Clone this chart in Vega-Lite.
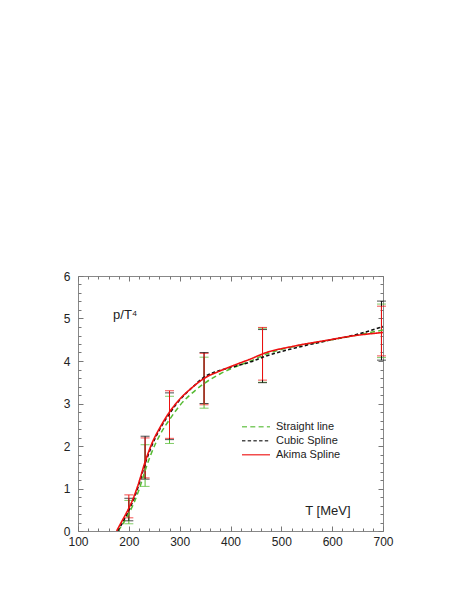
{
  "$schema": "https://vega.github.io/schema/vega-lite/v6.json",
  "width": 305,
  "height": 255,
  "autosize": {"type": "none"},
  "padding": {"left": 78, "top": 276, "right": 80, "bottom": 68},
  "background": "white",
  "config": {
    "view": {"stroke": "#888", "strokeWidth": 1},
    "font": "Liberation Sans",
    "axis": {"grid": false, "domain": false, "tickColor": "#777", "labelColor": "#222", "labelFont": "Liberation Sans", "labelFontSize": 12, "title": null},
    "legend": {"orient": "none", "legendX": 163, "legendY": 145, "symbolType": "stroke", "symbolSize": 784, "symbolStrokeWidth": 1.8,
      "clipHeight": 11.5, "rowPadding": 1, "labelOffset": 5, "labelFontSize": 11, "labelFont": "Liberation Sans", "labelColor": "#222", "title": null}
  },
  "datasets": {
    "bars": [
      {"series": "Straight line", "T": 200, "lo": 0.17, "hi": 0.72},
      {"series": "Straight line", "T": 232, "lo": 1.05, "hi": 2.03},
      {"series": "Straight line", "T": 280, "lo": 2.06, "hi": 3.17},
      {"series": "Straight line", "T": 348, "lo": 2.89, "hi": 4.09},
      {"series": "Straight line", "T": 463, "lo": 3.5, "hi": 4.77},
      {"series": "Straight line", "T": 697, "lo": 4.08, "hi": 5.34},
      {"series": "Cubic Spline", "T": 200, "lo": 0.24, "hi": 0.77},
      {"series": "Cubic Spline", "T": 232, "lo": 1.22, "hi": 2.23},
      {"series": "Cubic Spline", "T": 280, "lo": 2.15, "hi": 3.25},
      {"series": "Cubic Spline", "T": 348, "lo": 3.0, "hi": 4.2},
      {"series": "Cubic Spline", "T": 463, "lo": 3.49, "hi": 4.74},
      {"series": "Cubic Spline", "T": 697, "lo": 4.02, "hi": 5.41},
      {"series": "Akima Spline", "T": 200, "lo": 0.31, "hi": 0.85},
      {"series": "Akima Spline", "T": 232, "lo": 1.25, "hi": 2.19},
      {"series": "Akima Spline", "T": 280, "lo": 2.18, "hi": 3.3},
      {"series": "Akima Spline", "T": 348, "lo": 2.97, "hi": 4.18},
      {"series": "Akima Spline", "T": 463, "lo": 3.55, "hi": 4.79},
      {"series": "Akima Spline", "T": 697, "lo": 4.12, "hi": 5.29}
    ],
    "curves": [
      {"series": "Straight line", "T": 179, "y": 0},
      {"series": "Straight line", "T": 190, "y": 0.2},
      {"series": "Straight line", "T": 200, "y": 0.41},
      {"series": "Straight line", "T": 210, "y": 0.66},
      {"series": "Straight line", "T": 220, "y": 0.97},
      {"series": "Straight line", "T": 232, "y": 1.42},
      {"series": "Straight line", "T": 245, "y": 1.85},
      {"series": "Straight line", "T": 262, "y": 2.28},
      {"series": "Straight line", "T": 280, "y": 2.62},
      {"series": "Straight line", "T": 300, "y": 2.95},
      {"series": "Straight line", "T": 325, "y": 3.25},
      {"series": "Straight line", "T": 348, "y": 3.47},
      {"series": "Straight line", "T": 380, "y": 3.7},
      {"series": "Straight line", "T": 407, "y": 3.85},
      {"series": "Straight line", "T": 440, "y": 4.0},
      {"series": "Straight line", "T": 466, "y": 4.14},
      {"series": "Straight line", "T": 525, "y": 4.34},
      {"series": "Straight line", "T": 591, "y": 4.48},
      {"series": "Straight line", "T": 640, "y": 4.59},
      {"series": "Straight line", "T": 700, "y": 4.73},
      {"series": "Cubic Spline", "T": 178, "y": 0},
      {"series": "Cubic Spline", "T": 190, "y": 0.25},
      {"series": "Cubic Spline", "T": 200, "y": 0.49},
      {"series": "Cubic Spline", "T": 210, "y": 0.76},
      {"series": "Cubic Spline", "T": 220, "y": 1.1},
      {"series": "Cubic Spline", "T": 232, "y": 1.58},
      {"series": "Cubic Spline", "T": 245, "y": 2.0},
      {"series": "Cubic Spline", "T": 262, "y": 2.42},
      {"series": "Cubic Spline", "T": 280, "y": 2.76},
      {"series": "Cubic Spline", "T": 300, "y": 3.08},
      {"series": "Cubic Spline", "T": 325, "y": 3.38},
      {"series": "Cubic Spline", "T": 348, "y": 3.62},
      {"series": "Cubic Spline", "T": 380, "y": 3.78},
      {"series": "Cubic Spline", "T": 407, "y": 3.87},
      {"series": "Cubic Spline", "T": 440, "y": 3.98},
      {"series": "Cubic Spline", "T": 466, "y": 4.1},
      {"series": "Cubic Spline", "T": 525, "y": 4.3},
      {"series": "Cubic Spline", "T": 591, "y": 4.48},
      {"series": "Cubic Spline", "T": 640, "y": 4.6},
      {"series": "Cubic Spline", "T": 700, "y": 4.81},
      {"series": "Akima Spline", "T": 176, "y": 0},
      {"series": "Akima Spline", "T": 185, "y": 0.2},
      {"series": "Akima Spline", "T": 195, "y": 0.42},
      {"series": "Akima Spline", "T": 207, "y": 0.72},
      {"series": "Akima Spline", "T": 220, "y": 1.15},
      {"series": "Akima Spline", "T": 231, "y": 1.59},
      {"series": "Akima Spline", "T": 245, "y": 2.05},
      {"series": "Akima Spline", "T": 262, "y": 2.45},
      {"series": "Akima Spline", "T": 280, "y": 2.8},
      {"series": "Akima Spline", "T": 300, "y": 3.1},
      {"series": "Akima Spline", "T": 325, "y": 3.38},
      {"series": "Akima Spline", "T": 348, "y": 3.59},
      {"series": "Akima Spline", "T": 380, "y": 3.77},
      {"series": "Akima Spline", "T": 407, "y": 3.9},
      {"series": "Akima Spline", "T": 440, "y": 4.05},
      {"series": "Akima Spline", "T": 466, "y": 4.18},
      {"series": "Akima Spline", "T": 525, "y": 4.35},
      {"series": "Akima Spline", "T": 591, "y": 4.49},
      {"series": "Akima Spline", "T": 640, "y": 4.59},
      {"series": "Akima Spline", "T": 700, "y": 4.67}
    ],
    "notes": [
      {"label": "p/T⁴", "T": 169, "y": 5.0},
      {"label": "T [MeV]", "T": 547, "y": 0.37}
    ]
  },
  "layer": [
    {
      "data": {"name": "bars"},
      "transform": [{"fold": ["lo", "hi"], "as": ["end", "val"]}],
      "mark": {"type": "tick", "orient": "horizontal", "size": 9, "thickness": 1, "opacity": 0.75},
      "encoding": {
        "x": {"field": "T", "type": "quantitative", "scale": {"domain": [100, 700], "nice": false, "zero": false},
          "axis": {"orient": "bottom", "values": [100,120,140,160,180,200,220,240,260,280,300,320,340,360,380,400,420,440,460,480,500,520,540,560,580,600,620,640,660,680,700],
            "labelExpr": "datum.value % 100 === 0 ? format(datum.value, 'd') : ''",
            "tickSize": {"condition": {"test": "datum.value % 100 === 0", "value": -5}, "value": -3},
            "labelPadding": 10, "labelFlush": false, "labelOverlap": false}},
        "y": {"field": "val", "type": "quantitative", "scale": {"domain": [0, 6], "nice": false, "zero": false},
          "axis": {"orient": "left", "values": [0,0.2,0.4,0.6,0.8,1,1.2,1.4,1.6,1.8,2,2.2,2.4,2.6,2.8,3,3.2,3.4,3.6,3.8,4,4.2,4.4,4.6,4.8,5,5.2,5.4,5.6,5.8,6],
            "labelExpr": "abs(datum.value - round(datum.value)) < 0.001 ? format(datum.value, 'd') : ''",
            "tickSize": {"condition": {"test": "abs(datum.value - round(datum.value)) < 0.001", "value": -5}, "value": -3},
            "labelPadding": 13, "labelFlush": false, "labelOverlap": false}},
        "color": {"field": "series", "type": "nominal", "title": null,
          "scale": {"domain": ["Straight line", "Cubic Spline", "Akima Spline"], "range": ["#55bb33", "#111111", "#ee1111"]}}
      }
    },
    {
      "data": {"name": "bars"},
      "transform": [{"filter": "datum.series === 'Straight line'"}],
      "mark": {"type": "rule", "strokeWidth": 1},
      "encoding": {
        "x": {"field": "T", "type": "quantitative",
          "axis": {"orient": "top", "values": [100,120,140,160,180,200,220,240,260,280,300,320,340,360,380,400,420,440,460,480,500,520,540,560,580,600,620,640,660,680,700],
            "labels": false,
            "tickSize": {"condition": {"test": "datum.value % 100 === 0", "value": -5}, "value": -3}}},
        "y": {"field": "lo", "type": "quantitative",
          "axis": {"orient": "right", "values": [0,0.2,0.4,0.6,0.8,1,1.2,1.4,1.6,1.8,2,2.2,2.4,2.6,2.8,3,3.2,3.4,3.6,3.8,4,4.2,4.4,4.6,4.8,5,5.2,5.4,5.6,5.8,6],
            "labels": false,
            "tickSize": {"condition": {"test": "abs(datum.value - round(datum.value)) < 0.001", "value": -5}, "value": -3}}},
        "y2": {"field": "hi"},
        "color": {"field": "series", "type": "nominal", "title": null}
      }
    },
    {
      "data": {"name": "bars"},
      "transform": [{"filter": "datum.series === 'Cubic Spline'"}],
      "mark": {"type": "rule", "strokeWidth": 1},
      "encoding": {
        "x": {"field": "T", "type": "quantitative", "axis": null},
        "y": {"field": "lo", "type": "quantitative", "axis": null},
        "y2": {"field": "hi"},
        "color": {"field": "series", "type": "nominal", "title": null}
      }
    },
    {
      "data": {"name": "bars"},
      "transform": [{"filter": "datum.series === 'Akima Spline'"}],
      "mark": {"type": "rule", "strokeWidth": 1},
      "encoding": {
        "x": {"field": "T", "type": "quantitative", "axis": null},
        "y": {"field": "lo", "type": "quantitative", "axis": null},
        "y2": {"field": "hi"},
        "color": {"field": "series", "type": "nominal", "title": null}
      }
    },
    {
      "data": {"name": "curves"},
      "transform": [{"filter": "datum.series === 'Straight line'"}],
      "mark": {"type": "line", "interpolate": "monotone", "clip": true},
      "encoding": {
        "x": {"field": "T", "type": "quantitative", "axis": null},
        "y": {"field": "y", "type": "quantitative", "axis": null},
        "color": {"field": "series", "type": "nominal", "title": null},
        "strokeDash": {"field": "series", "type": "nominal", "title": null,
          "scale": {"domain": ["Straight line", "Cubic Spline", "Akima Spline"], "range": [[5, 3.3], [3.4, 2.3], [1, 0]]}},
        "strokeWidth": {"field": "series", "type": "nominal", "title": null,
          "scale": {"domain": ["Straight line", "Cubic Spline", "Akima Spline"], "range": [1.5, 1.6, 2]}}
      }
    },
    {
      "data": {"name": "curves"},
      "transform": [{"filter": "datum.series === 'Cubic Spline'"}],
      "mark": {"type": "line", "interpolate": "monotone", "clip": true},
      "encoding": {
        "x": {"field": "T", "type": "quantitative", "axis": null},
        "y": {"field": "y", "type": "quantitative", "axis": null},
        "color": {"field": "series", "type": "nominal", "title": null},
        "strokeDash": {"field": "series", "type": "nominal", "title": null},
        "strokeWidth": {"field": "series", "type": "nominal", "title": null}
      }
    },
    {
      "data": {"name": "curves"},
      "transform": [{"filter": "datum.series === 'Akima Spline'"}],
      "mark": {"type": "line", "interpolate": "monotone", "clip": true},
      "encoding": {
        "x": {"field": "T", "type": "quantitative", "axis": null},
        "y": {"field": "y", "type": "quantitative", "axis": null},
        "color": {"field": "series", "type": "nominal", "title": null},
        "strokeDash": {"field": "series", "type": "nominal", "title": null},
        "strokeWidth": {"field": "series", "type": "nominal", "title": null}
      }
    },
    {
      "data": {"name": "notes"},
      "mark": {"type": "text", "align": "left", "baseline": "alphabetic", "fontSize": 13, "font": "Liberation Sans", "color": "#222"},
      "encoding": {
        "x": {"field": "T", "type": "quantitative", "axis": null},
        "y": {"field": "y", "type": "quantitative", "axis": null},
        "text": {"field": "label"}
      }
    }
  ]
}
